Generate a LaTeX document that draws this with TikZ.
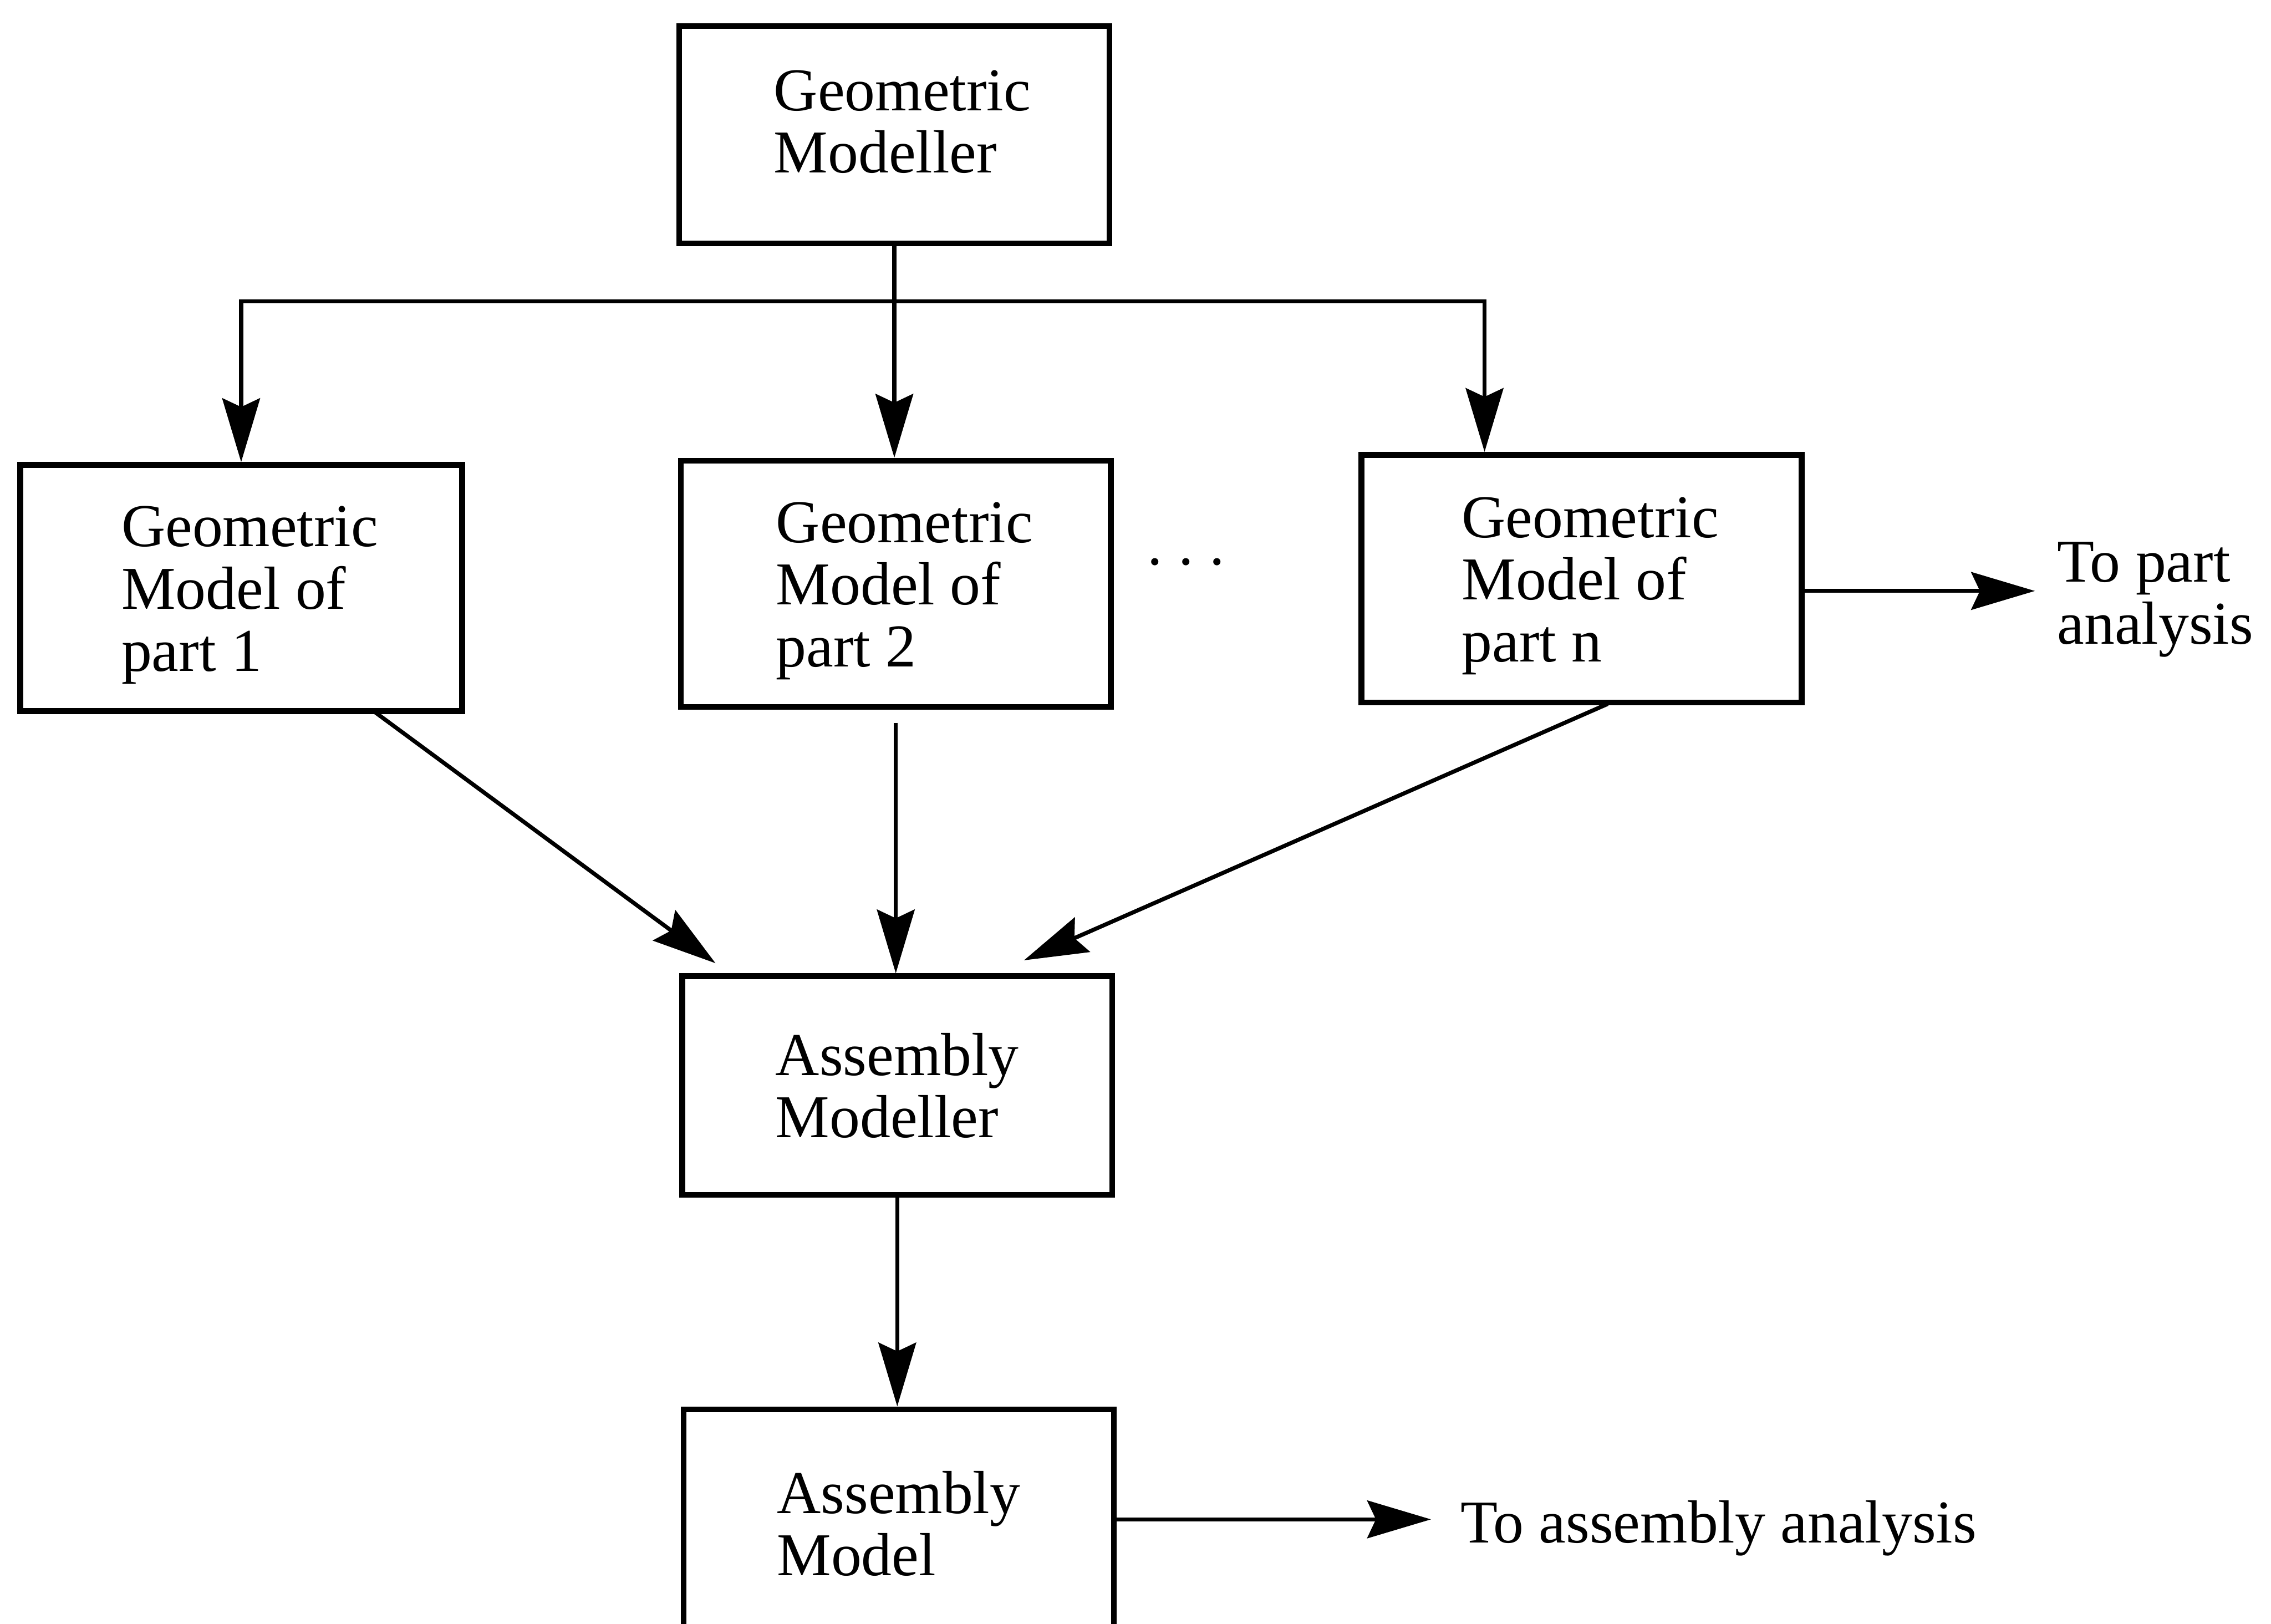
\documentclass[tikz,border=0pt]{standalone}
\usepackage{fontspec}
\setmainfont{Liberation Serif}
\usetikzlibrary{arrows.meta}
\begin{document}
\begin{tikzpicture}[x=0.5pt,y=-0.5pt,
  txt/.style={font=\fontsize{21}{21.5}\selectfont, align=left, inner sep=0pt},
  box/.style={draw, line width=2pt, inner sep=0pt, txt},
  partbox/.style={box, minimum height=85pt},
  inner/.style={txt, xshift=3pt, yshift=-2.5pt},
  link/.style={line width=1.4pt},
  conn/.style={link, -{Stealth[length=22pt,width=13pt,inset=3pt]}}]

\useasboundingbox (0,0) rectangle (1568,1121);
\clip (0,0) rectangle (1568,1121);

% boxes
\node[box, minimum width=148.5pt, minimum height=75pt] (gm) at (617.5,93) {};
\node[txt] (gmtext) at (623,84) {Geometric\\Modeller};

\node[partbox, minimum width=152.5pt,
  label={[inner, name=p1text]center:Geometric\\Model of\\part 1}] (p1) at (166.5,406) {};
\node[partbox, minimum width=148.5pt,
  label={[inner, name=p2text]center:Geometric\\Model of\\part 2}] (p2) at (618.5,403) {};
\node[partbox, minimum width=152pt, minimum height=85.5pt,
  label={[inner, name=pntext]center:Geometric\\Model of\\part n}] (pn) at (1092,399.5) {};
\node[txt] (dots) at (819,388) {.\hspace{5.5pt}.\hspace{5.5pt}.};

\node[box, minimum width=148.5pt, minimum height=75.5pt] (am) at (619.5,749.5) {Assembly\\Modeller};
\node[box, minimum width=148.5pt, minimum height=79pt] (model) at (620.5,1052) {Assembly\\Model};

% side labels
\node[txt, anchor=west] (tpa) at (1420,414) {To part\\analysis};
\node[txt, anchor=west] (taa) at (1008,1055) {To assembly analysis};

% distribution from the geometric modeller
\coordinate (bus) at (gm.south |- 0,208);
\coordinate (rj) at (1025,208);
\draw[link] (gm.south) -- (bus);
\draw[conn] (bus) -| (p1.north);
\draw[conn] (bus) -- (bus |- p2.north);
\draw[conn] (bus) -- (rj) -- (rj |- pn.north);

% part models into the assembly modeller
\coordinate (p1o) at (258,491);
\coordinate (pno) at (1110,486);
\coordinate (amL) at (494,665);
\coordinate (amR) at (707,663);
\draw[conn] (p1o) -- (amL);
\draw[conn] (pno) -- (amR);
\draw[conn, shorten <=4.5pt] (p2.south) -- (p2.south |- am.north);

% assembly model and outputs
\draw[conn] (am.south) -- (am.south |- model.north);
\draw[conn, shorten >=7.5pt] (pn.east |- 0,408) -- (tpa.west |- 0,408);
\draw[conn, shorten >=10pt] (model.east |- 0,1049) -- (taa.west |- 0,1049);

\end{tikzpicture}
\end{document}
